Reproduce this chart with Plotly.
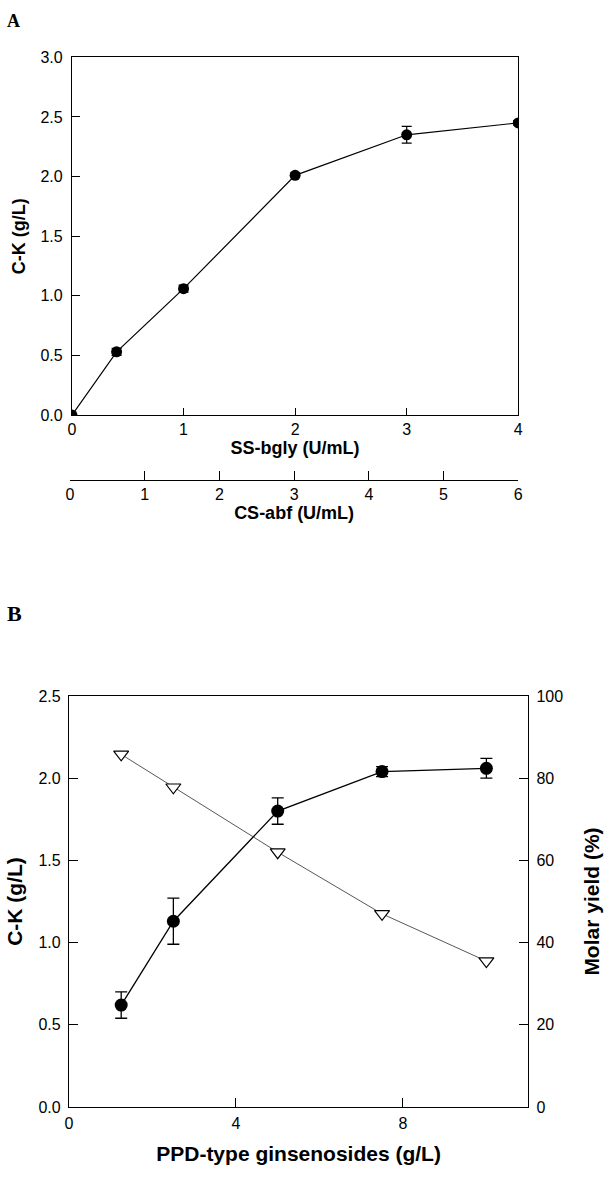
import plotly.graph_objects as go

# Panel A data
ss_bgly = [0, 0.4, 1, 2, 3, 4]
cs_abf = [0, 0.6, 1.5, 3, 4.5, 6]
ck_a = [0.0, 0.53, 1.06, 2.01, 2.35, 2.45]
ck_a_err = [0.0, 0.03, 0.03, 0.02, 0.07, 0.02]
a_xticks = [0, 1, 2, 3, 4]
a_x2ticks = [0, 1, 2, 3, 4, 5, 6]
a_yticks = [0.0, 0.5, 1.0, 1.5, 2.0, 2.5, 3.0]

# Panel B data
ppd = [1.25, 2.5, 5, 7.5, 10]
ck_b = [0.62, 1.13, 1.80, 2.04, 2.06]
ck_b_err = [0.08, 0.14, 0.08, 0.03, 0.06]
molar_yield = [85.8, 77.8, 62.0, 47.0, 35.5]
b_xticks = [0, 4, 8]
b_yticks = [0.0, 0.5, 1.0, 1.5, 2.0, 2.5]
b_y2ticks = [0, 20, 40, 60, 80, 100]

W, H = 607, 1186
def px(x):
    return x / W
def py(y):
    return 1 - y / H

FONT = "Liberation Sans, Arial, sans-serif"
tickfont = dict(family=FONT, size=16, color="black")
titlefont_a = dict(family=FONT, size=18, color="black", weight="bold")
titlefont_b = dict(family=FONT, size=21, color="black", weight="bold")

fig = go.Figure()

# Panel A
fig.add_trace(go.Scatter(
    x=ss_bgly, y=ck_a, mode="lines+markers", xaxis="x", yaxis="y",
    line=dict(color="black", width=1.2),
    marker=dict(color="black", size=11, symbol="circle"),
    error_y=dict(type="data", array=ck_a_err, color="black", thickness=1.2, width=5),
    showlegend=False, hoverinfo="skip"))
# secondary scale for CS-abf (invisible carrier trace)
fig.add_trace(go.Scatter(
    x=cs_abf, y=[0] * len(cs_abf), mode="markers", xaxis="x2", yaxis="y3",
    marker=dict(opacity=0), showlegend=False, hoverinfo="skip"))

# Panel B
fig.add_trace(go.Scatter(
    x=ppd, y=molar_yield, mode="lines+markers", xaxis="x3", yaxis="y5",
    line=dict(color="#444444", width=0.9),
    marker=dict(symbol="triangle-down", size=13, color="white",
                line=dict(color="black", width=1.2)),
    showlegend=False, hoverinfo="skip"))
fig.add_trace(go.Scatter(
    x=ppd, y=ck_b, mode="lines+markers", xaxis="x3", yaxis="y4",
    line=dict(color="black", width=1.3),
    marker=dict(color="black", size=13, symbol="circle"),
    error_y=dict(type="data", array=ck_b_err, color="black", thickness=1.3, width=6),
    showlegend=False, hoverinfo="skip"))

axis_common = dict(showline=True, linecolor="black", linewidth=1.3, ticks="inside",
                   tickcolor="black", tickwidth=1.3, showgrid=False, zeroline=False,
                   tickfont=tickfont)

fig.update_layout(
    width=W, height=H,
    margin=dict(l=0, r=0, t=0, b=0),
    paper_bgcolor="white", plot_bgcolor="white",
    xaxis=dict(domain=[px(69), px(522)], range=[0, 4], anchor="y",
               tickvals=a_xticks, ticklen=7, mirror=True,
               title=dict(text="SS-bgly (U/mL)", font=titlefont_a, standoff=2),
               **axis_common),
    yaxis=dict(domain=[py(413), py(50)], range=[0, 3], anchor="x",
               tickvals=a_yticks, tickformat=".1f", ticklen=8, mirror=True,
               ticklabelstandoff=5,
               title=dict(text="C-K (g/L)", font=titlefont_a, standoff=10),
               **axis_common),
    xaxis2=dict(domain=[px(67), px(522)], range=[0, 6], anchor="y3",
                tickvals=a_x2ticks, ticklen=9,
                title=dict(text="CS-abf (U/mL)", font=titlefont_a, standoff=2),
                **axis_common),
    yaxis3=dict(domain=[py(479), py(470)], range=[0, 1], anchor="x2",
                visible=False),
    xaxis3=dict(domain=[px(66), px(532)], range=[0, 11], anchor="y4",
                tickvals=b_xticks, ticklen=9, mirror=True, ticklabelstandoff=2,
                title=dict(text="PPD-type ginsenosides (g/L)", font=titlefont_b, standoff=14),
                **axis_common),
    yaxis4=dict(domain=[py(1115), py(698)], range=[0, 2.5], anchor="x3",
                tickvals=b_yticks, tickformat=".1f", ticklen=9, ticklabelstandoff=4,
                title=dict(text="C-K (g/L)", font=titlefont_b, standoff=10),
                **axis_common),
    yaxis5=dict(range=[0, 100], anchor="x3", overlaying="y4", side="right",
                tickvals=b_y2ticks, ticklen=9, ticklabelstandoff=4,
                title=dict(text="Molar yield (%)", font=titlefont_b, standoff=22),
                **axis_common),
    annotations=[
        dict(text="A", x=px(1), y=py(1), xref="paper", yref="paper",
             xanchor="left", yanchor="top", showarrow=False,
             font=dict(family="Liberation Serif, Times New Roman, serif", size=18,
                       color="black", weight="bold")),
        dict(text="B", x=px(1), y=py(600), xref="paper", yref="paper",
             xanchor="left", yanchor="top", showarrow=False,
             font=dict(family="Liberation Serif, Times New Roman, serif", size=22,
                       color="black", weight="bold")),
    ],
)

fig.write_html("out.html", config={"displayModeBar": False},
               post_script="document.body.style.margin='0';document.body.style.padding='0';")
